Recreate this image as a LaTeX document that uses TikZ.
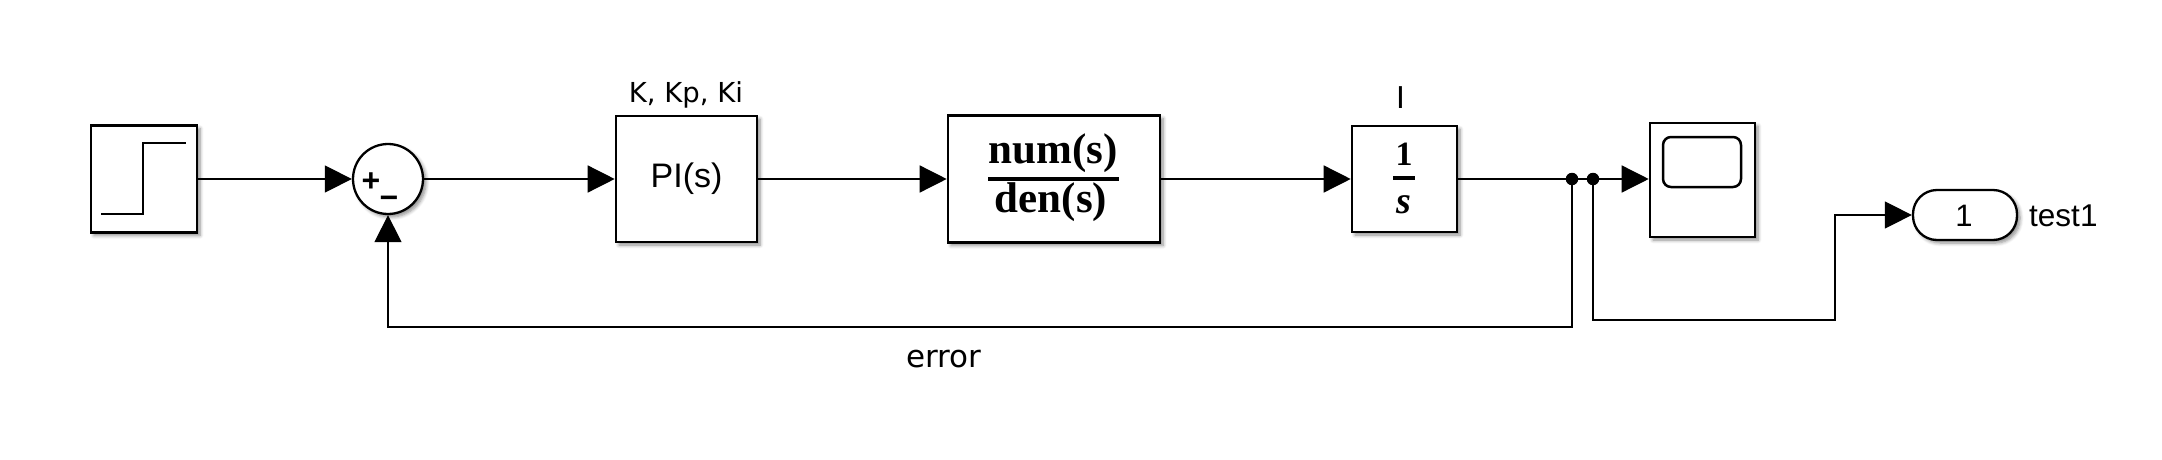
\documentclass[tikz,border=0pt]{standalone}
\usepackage{fontspec}
\setmainfont{Liberation Sans}
\newfontfamily\dejavu{DejaVu Sans}
\newfontfamily\tnr{Liberation Serif}
\usetikzlibrary{arrows.meta,shadows.blur}
\begin{document}
\begin{tikzpicture}[x=1pt,y=-1pt,
  shd/.style={blur shadow={shadow xshift=3pt,shadow yshift=-3pt,shadow blur radius=3.5pt,shadow blur steps=6,shadow opacity=45}},
  blk/.style={draw, line width=2.6pt, fill=white, inner sep=0pt, shd},
  sig/.style={line width=1.4pt},
  arr/.style={sig,-{Triangle[length=27pt,width=27pt]}},
  junc/.style={circle, fill=black, inner sep=0pt, minimum size=12.5pt},
  lbl/.style={inner sep=0pt, anchor=base}]
\useasboundingbox (0,0) rectangle (2162,460);

% step source
\node[blk, minimum width=106pt, minimum height=107pt] (step) at (144,179) {};
\draw[line width=2pt] (101,214) -- (143,214) -- (143,143) -- (186,143);

% sum
\node[circle, draw, line width=2.3pt, fill=white, minimum size=70pt, inner sep=0pt, shd] (sum) at (388,179) {};
\node[lbl, font=\fontsize{32}{32}\selectfont\bfseries] (plus) at (371,191.5) {+};
\node[lbl, font=\fontsize{32}{32}\selectfont\bfseries] (minus) at (389,208) {−};

% PI
\node[blk, minimum width=141pt, minimum height=126pt, font=\fontsize{34}{34}\selectfont] (pi) at (686.5,179) {PI(s)};
\node[lbl, font=\dejavu\fontsize{27.5}{28}\selectfont] (pilab) at (686,102) {K, Kp, Ki};

% transfer function
\node[blk, minimum width=212pt, minimum height=127pt] (tf) at (1054,179) {};
\node[lbl, font=\tnr\bfseries\fontsize{43}{43}\selectfont] (num) at (1053,163) {num(s)};
\node[lbl, font=\tnr\bfseries\fontsize{43}{43}\selectfont] (den) at (1051,212) {den(s)};
\draw[line width=3.5pt] (988,179) -- (1119,179);

% integrator
\node[blk, minimum width=105pt, minimum height=106pt] (int) at (1404.5,179) {};
\node[lbl, font=\tnr\bfseries\fontsize{34}{34}\selectfont] (one) at (1404,165) {1};
\draw[line width=3.5pt] (1393,178) -- (1415,178);
\node[lbl, font=\tnr\bfseries\itshape\fontsize{38}{38}\selectfont] (svar) at (1404,213) {s};
\node[lbl, font=\dejavu\fontsize{30}{30}\selectfont] (intlab) at (1401,108) {I};

% junctions
\node[junc] (d1) at (1572,179) {};
\node[junc] (d2) at (1593,179) {};

% scope
\node[blk, minimum width=105pt, minimum height=114pt] (scope) at (1702.5,180) {};
\draw[line width=2.5pt, rounded corners=8pt] (1663,137) rectangle (1741,187);

% outport
\node[draw, line width=2.3pt, rounded corners=24pt, minimum width=104pt, minimum height=50pt, fill=white, inner sep=0pt, shd] (out) at (1965,215) {};
\node[lbl, font=\fontsize{31}{31}\selectfont] (outnum) at (1964,226) {1};
\node[inner sep=0pt, anchor=base west, font=\fontsize{31.5}{31.5}\selectfont] (outlab) at (2029,226) {test1};

% error label
\node[lbl, font=\dejavu\fontsize{31}{31}\selectfont] (err) at (944,367) {error};

% connectors
\coordinate (fb) at (388,327);
\coordinate (br) at (1835,320);
\draw[arr] (step.east) -- (sum.west);
\draw[arr] (sum.east) -- (pi.west);
\draw[arr] (pi.east) -- (tf.west);
\draw[arr] (tf.east) -- (int.west);
\draw[sig] (int.east) -- (d1.center) -- (d2.center);
\draw[arr] (d2.center) -- (d2.center -| scope.west);
\draw[arr] (d1.center) |- (fb) -- (sum.south);
\draw[arr] (d2.center) |- (br) |- (out.west);
\end{tikzpicture}
\end{document}
